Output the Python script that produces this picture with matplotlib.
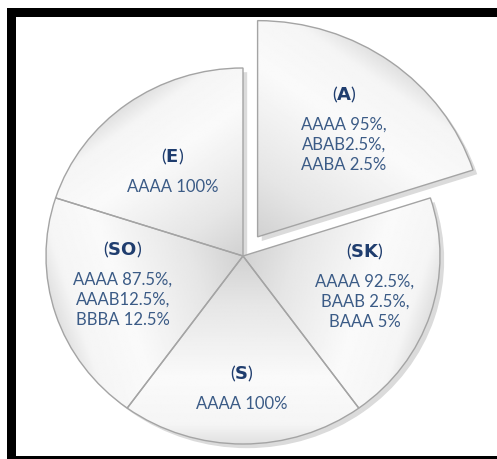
import numpy as np
import matplotlib
matplotlib.use("Agg")
import matplotlib.pyplot as plt
from matplotlib.patches import Rectangle, PathPatch
import matplotlib.patheffects as pe

plt.rcParams["mathtext.fontset"] = "custom"
plt.rcParams["mathtext.bf"] = "DejaVu Sans:bold"
plt.rcParams["mathtext.rm"] = "Lato"

# five equal regions, clockwise from the top
regions = ["A", "SK", "S", "SO", "E"]
shares = [1, 1, 1, 1, 1]
compositions = [
    ["AAAA 95%,", "ABAB2.5%,", "AABA 2.5%"],
    ["AAAA 92.5%,", "BAAB 2.5%,", "BAAA 5%"],
    ["AAAA 100%"],
    ["AAAA 87.5%,", "AAAB12.5%,", "BBBA 12.5%"],
    ["AAAA 100%"],
]
explode = [0.126, 0, 0, 0, 0]

W, H = 497, 459
fig = plt.figure(figsize=(W / 100, H / 100), dpi=100)
ax = fig.add_axes([0, 0, 1, 1])
cx, cy, rx, ry = 243, 256, 197, 188
ax.axis("off")

wedges, _ = ax.pie(shares, explode=explode, startangle=90, counterclock=False,
                   radius=1.0, colors=["#e4e4e4"] * 5,
                   wedgeprops=dict(linewidth=0, zorder=1))
wedges[0].set_radius(1.15)

gx, gy = np.meshgrid(np.linspace(-1.4, 1.4, 400), np.linspace(-1.4, 1.4, 400))
for w in wedges:
    w.set_path_effects([pe.SimplePatchShadow(offset=(3, -3), shadow_rgbFace="#888888", alpha=0.3),
                        pe.Normal()])
    mid = np.deg2rad((w.theta1 + w.theta2) / 2)
    ox, oy = w.center
    t = ((gx - ox) * np.cos(mid) + (gy - oy) * np.sin(mid)) / w.r
    shade = np.interp(t, [0, 0.25, 0.65, 0.9, 1.0], [0.82, 0.90, 0.98, 0.96, 0.88])
    im = ax.imshow(shade, cmap="gray", vmin=0, vmax=1, origin="lower",
                   extent=(-1.4, 1.4, -1.4, 1.4), zorder=2, interpolation="bilinear")
    im.set_clip_path(w)
    ax.add_patch(PathPatch(w.get_path(), transform=w.get_transform(), fill=False,
                           edgecolor="#a4a4a4", linewidth=1.0, zorder=3))

ax.set_aspect("auto")
ax.set_xlim(-cx / rx, (W - cx) / rx)
ax.set_ylim(-(H - cy) / ry, cy / ry)

# label positions in pixels (x, y of the title line)
label_xy = [(344, 95), (365, 252), (242, 374), (123, 250), (173, 157)]
for name, lines, (px, py) in zip(regions, compositions, label_xy):
    fig.text(px / W, 1 - py / H, "(" + r"$\mathbf{" + name + "}$" + ")",
             ha="center", va="center", fontsize=13, color="#1f3d6e", family="Lato")
    for i, line in enumerate(lines):
        fig.text(px / W, 1 - (py + 30 + 20 * i) / H, line, ha="center", va="center",
                 fontsize=12, color="#3b5b86", family="Lato")

# black frame
for x0, y0, w, h in [(7, 8, 490, 9), (7, 8, 9, 448), (7, 456, 490, 3)]:
    fig.add_artist(Rectangle((x0 / W, 1 - (y0 + h) / H), w / W, h / H,
                             transform=fig.transFigure, color="black", lw=0))

fig.savefig("out.png", dpi=100)
